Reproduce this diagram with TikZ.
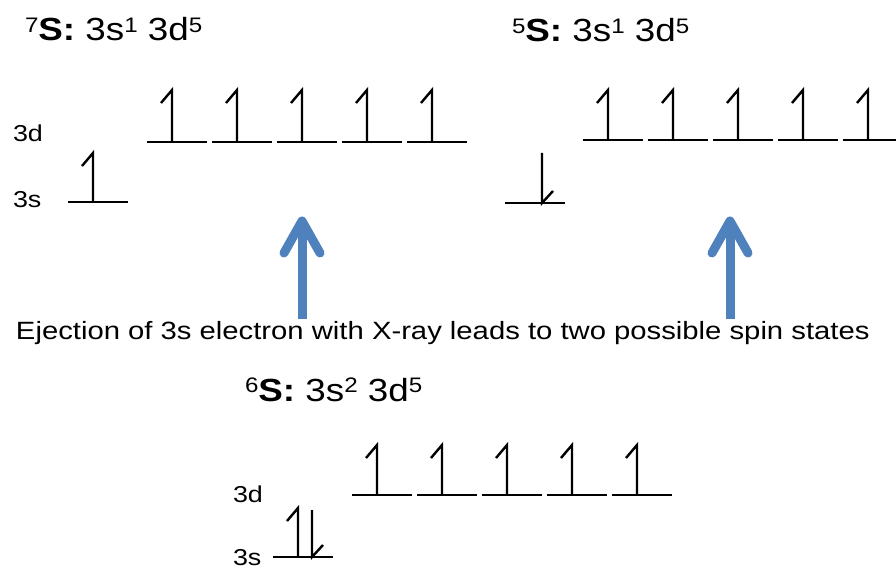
\documentclass[tikz,border=0pt]{standalone}
\usepackage{fontspec}
\setmainfont{Liberation Sans}
\usetikzlibrary{calc}
\definecolor{xblue}{RGB}{79,129,189}
\newcommand{\hs}[2][1.15]{\scalebox{#1}[1]{#2}}
\newcommand{\sps}[1]{\raisebox{0.26em}{\fontsize{21}{21}\selectfont #1}}
\tikzset{
  txt/.style={anchor=base west, inner sep=0pt, outer sep=0pt},
  title/.style={txt, font=\fontsize{32}{38}\selectfont},
  lab/.style={txt, font=\fontsize{23}{27}\selectfont},
  sent/.style={txt, font=\fontsize{25}{30}\selectfont},
  level/.style={line width=2.4pt},
  spin/.style={line width=2.4pt, line join=miter},
  xray/.style={draw=xblue, line width=9pt},
  xhead/.style={draw=xblue, line width=9pt, line cap=round, line join=round}
}
\newcommand{\upspin}[3]{\draw[spin] (#1,#3) -- (#1,#2) -- ++(-11,13);}
\newcommand{\dnspin}[3]{\draw[spin] (#1,#2) -- (#1,#3) -- ++(11,-12);}
\newcommand{\dlevels}[2]{%
  \foreach \i in {0,...,4}{\draw[level] ({#1+65*\i},#2) -- ++(60,0);}}
\begin{document}
\begin{tikzpicture}[x=1pt,y=-1pt]
\useasboundingbox (0,0) rectangle (896,569);
% titles
\node[title] (t7) at (25,41) {\hs{\sps{7}\textbf{S:} 3s\sps{1} 3d\sps{5}}};
\node[title] (t5) at (512,42) {\hs{\sps{5}\textbf{S:} 3s\sps{1} 3d\sps{5}}};
\node[title] (t6) at (245,401) {\hs{\sps{6}\textbf{S:} 3s\sps{2} 3d\sps{5}}};
% labels
\node[lab] (l7d) at (13,142) {\hs[1.17]{3d}};
\node[lab] (l7s) at (13,208) {\hs[1.17]{3s}};
\node[lab] (l6d) at (233,502) {\hs[1.17]{3d}};
\node[lab] (l6s) at (233,565) {\hs[1.17]{3s}};
% sentence
\node[sent] (sent) at (16,339) {\hs[1.17]{Ejection of 3s electron with X-ray leads to two possible spin states}};
% 7S
\dlevels{147}{142}
\foreach \x in {172,237,302,367,432}{\upspin{\x}{90}{142}}
\draw[level] (68,202) -- (128,202);
\upspin{93}{153}{202}
% 5S
\dlevels{583}{140}
\foreach \x in {608,673,738,803,868}{\upspin{\x}{90}{140}}
\draw[level] (505,203) -- (565,203);
\dnspin{542}{153}{203}
% 6S
\dlevels{352}{495}
\foreach \x in {377,442,507,572,637}{\upspin{\x}{445}{495}}
\draw[level] (273,557) -- (333,557);
\upspin{298}{508}{557}
\dnspin{312}{510}{557}
% X-ray arrows
\coordinate (a1s) at (302,319);
\coordinate (a1t) at (302,221);
\coordinate (a2s) at (730,319);
\coordinate (a2t) at (730,221);
\draw[xray] (a1s) -- ($(a1t)+(0,6)$);
\draw[xhead] ($(a1t)+(-18,32)$) -- (a1t) -- ($(a1t)+(18,32)$);
\draw[xray] (a2s) -- ($(a2t)+(0,6)$);
\draw[xhead] ($(a2t)+(-18,32)$) -- (a2t) -- ($(a2t)+(18,32)$);
\end{tikzpicture}
\end{document}
